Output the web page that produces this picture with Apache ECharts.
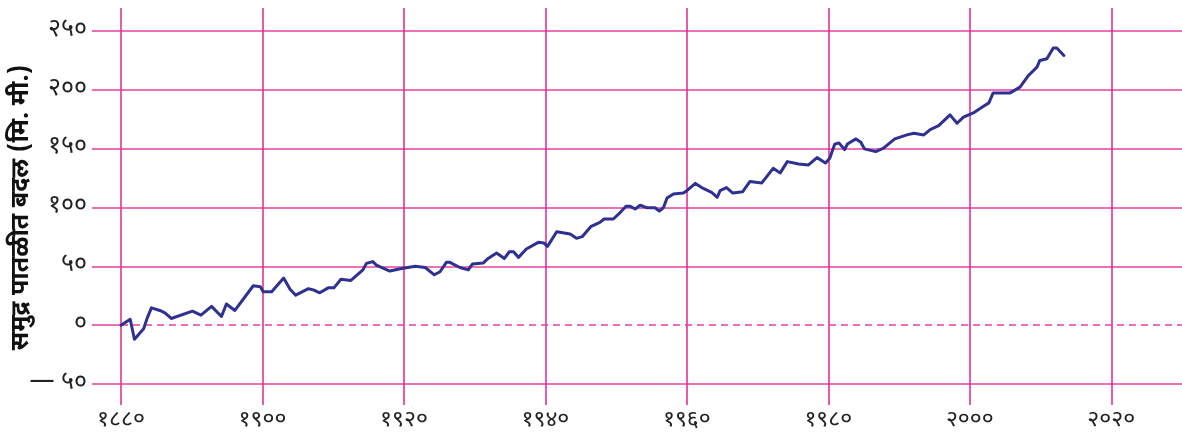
<!DOCTYPE html>
<html lang="mr">

<head>
    <meta charset="UTF-8">
    <title>समुद्र पातळीत बदल</title>
    <script src="https://cdn.jsdelivr.net/npm/echarts@6/dist/echarts.min.js"></script>
    <style>
        body { margin: 0; background: #fff; }
    </style>
</head>

<body>
    <div id="main" style="width: 1182px;height:440px;"></div>
    <script type="text/javascript">
        // वर्षे व समुद्र पातळीतील बदल (मि. मी.)
        var years = [1880, 1881.3, 1881.9, 1883.2, 1883.7, 1884.3, 1885.7, 1886.3, 1887.1, 1890.1,
            1891.3, 1892.8, 1894.2, 1894.9, 1896.1, 1898.7, 1899.7, 1900.1, 1901.3, 1903,
            1903.9, 1904.7, 1906.5, 1907.2, 1908.1, 1909.3, 1910.1, 1911.1, 1912.5, 1914.2,
            1914.7, 1915.6, 1916.1, 1918, 1919.5, 1921.6, 1923, 1924.3, 1925.1, 1926,
            1926.5, 1927.9, 1929.1, 1929.7, 1931.2, 1931.9, 1933.1, 1934.2, 1934.9, 1935.5,
            1936.2, 1937.3, 1939, 1939.8, 1940.3, 1941.6, 1943.5, 1944.4, 1945.2, 1946.4,
            1947.7, 1948.3, 1949.6, 1950.6, 1951.4, 1952, 1952.7, 1953.4, 1954.3, 1955.5,
            1956.1, 1956.7, 1957.2, 1958.1, 1959.5, 1960, 1961.2, 1962.1, 1963.5, 1964.3,
            1964.7, 1965.6, 1966.5, 1967.9, 1968.9, 1970.6, 1972.2, 1973.2, 1974.2, 1975.8,
            1977.2, 1978.4, 1979.6, 1980.2, 1980.9, 1981.5, 1982.3, 1982.7, 1983.9, 1984.6,
            1985.1, 1986.7, 1987.8, 1989.4, 1991.1, 1992.1, 1993.5, 1994.4, 1995.6, 1997.2,
            1998.2, 1999.1, 2000.5, 2001.5, 2002.7, 2003.3, 2005.7, 2007.1, 2008.3, 2009.5,
            2009.9, 2010.9, 2011.8, 2012.3, 2013.3];
        var seaLevel = [0, 5, -12, -3, 6, 14.7, 12, 10, 5.7, 11.9,
            8.5, 16, 7.4, 18, 12.5, 33.5, 32.6, 28.4, 28.4, 40,
            30.6, 25.5, 31, 30, 27.5, 31.7, 31.7, 39, 38, 47,
            52.5, 54, 51, 46, 48, 50, 49, 42.8, 45.4, 53.4,
            53.4, 49, 47, 52, 52.8, 56.7, 61.3, 56.7, 62.4, 62.4,
            57.6, 64.7, 70.4, 69.8, 67, 79.4, 77.4, 73.8, 75.2, 83.7,
            87.4, 90.2, 90.2, 95.9, 101, 101, 98.7, 102, 99.8, 99.8,
            97, 100, 108, 111.5, 112.3, 114.3, 120.5, 116.9, 112.9, 108.7,
            114.3, 116.9, 112.3, 113.4, 122, 120.9, 133.3, 129.4, 139, 137,
            136.2, 142.4, 137.9, 141.9, 153.8, 154.9, 149.2, 154, 158.3, 155.5,
            149.8, 147.5, 150.4, 158.3, 161.7, 163.1, 161.7, 166.2, 169.6, 178.7,
            171.6, 176.8, 180.4, 184.4, 188.9, 197.4, 197.4, 202.3, 212.2, 219.3,
            225, 226.4, 235.5, 235.5, 229.2];

        var yName = 'समुद्र पातळीत बदल (मि. मी.)';
        var devDigits = ['०', '१', '२', '३', '४', '५', '६', '७', '८', '९'];

        function toDev(n) {
            return String(n).replace(/[0-9]/g, function (d) { return devDigits[+d]; });
        }

        var pink = '#e8409e';
        var pinkDark = '#e0258f';
        var fontFam = '"Noto Sans Devanagari", "Lohit Devanagari", "Noto Sans", sans-serif';

        var data = years.map(function (y, i) { return [y, seaLevel[i]]; });

        var myChart = echarts.init(document.getElementById('main'));
        var option = {
            animation: false,
            grid: [
                { left: 121, right: 0, top: 31, bottom: 56, outerBoundsMode: 'none' },
                { left: 121, right: 0, top: 8, bottom: 35, outerBoundsMode: 'none' }
            ],
            xAxis: [
                {
                    gridIndex: 0, type: 'value', min: 1880, max: 2030,
                    show: false, splitLine: { show: false }
                },
                {
                    gridIndex: 1, type: 'value', min: 1880, max: 2030, interval: 20,
                    axisLine: { show: false },
                    axisTick: { show: false },
                    splitLine: {
                        show: true, showMaxLine: false,
                        lineStyle: { color: pinkDark, width: 1.5 }
                    },
                    axisLabel: {
                        showMaxLabel: false,
                        margin: 5,
                        fontSize: 23,
                        color: '#222',
                        fontFamily: fontFam,
                        formatter: function (v) { return toDev(v); }
                    }
                }
            ],
            yAxis: [
                {
                    gridIndex: 0, type: 'value', min: -50, max: 250, interval: 50,
                    name: yName,
                    nameLocation: 'middle',
                    nameGap: 85,
                    nameRotate: 90,
                    nameMoveOverlap: false,
                    nameTextStyle: { fontSize: 25, fontWeight: 'bold', color: '#111', fontFamily: fontFam },
                    axisLine: { show: false },
                    axisTick: { show: true, inside: false, length: 29, lineStyle: { color: pink, width: 1.5 } },
                    splitLine: {
                        show: true,
                        lineStyle: { color: [pink, 'rgba(0,0,0,0)', pink, pink, pink, pink, pink], width: 1.5 }
                    },
                    axisLabel: {
                        margin: 34,
                        fontSize: 25,
                        color: '#222',
                        fontFamily: fontFam,
                        formatter: function (v) { return v < 0 ? '— ' + toDev(-v) : toDev(v); }
                    }
                },
                { gridIndex: 1, type: 'value', min: 0, max: 1, show: false, splitLine: { show: false } }
            ],
            series: [
                {
                    type: 'line',
                    xAxisIndex: 0,
                    yAxisIndex: 0,
                    data: data,
                    showSymbol: false,
                    lineStyle: { color: '#2e3192', width: 3, join: 'round', cap: 'round' },
                    markLine: {
                        silent: true,
                        symbol: 'none',
                        label: { show: false },
                        lineStyle: { color: pink, width: 1.5, type: [7, 5] },
                        data: [{ yAxis: 0 }]
                    },
                    z: 5
                }
            ]
        };

        myChart.setOption(option);
    </script>
</body>

</html>
